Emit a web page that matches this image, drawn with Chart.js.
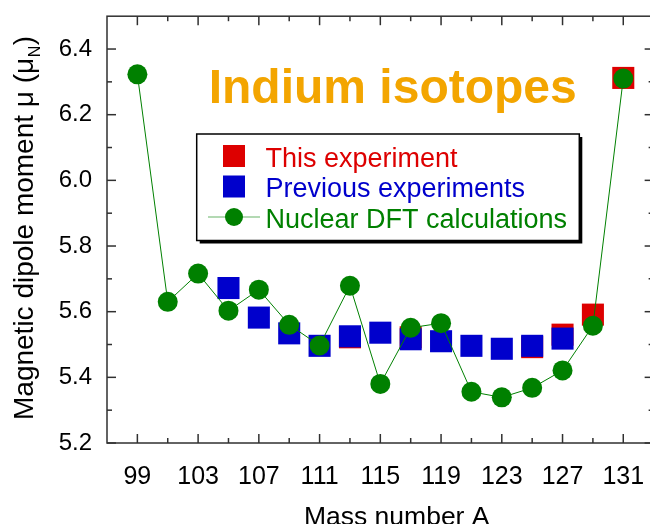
<!DOCTYPE html>
<html><head><meta charset="utf-8">
<script src="https://cdn.jsdelivr.net/npm/chart.js@4.4.1/dist/chart.umd.min.js"></script>
<style>
html,body{margin:0;padding:0;background:#fff;overflow:hidden;width:650px;height:524px;}
#wrap{position:relative;width:650px;height:524px;}
canvas{display:block;}
</style></head><body>
<div id="wrap"><canvas id="c" width="650" height="524"></canvas></div>
<script>
// ---- data ----
const massNumbers = [99,101,103,105,107,109,111,113,115,117,119,121,123,125,127,129,131];
const dftMoments = [6.323,5.630,5.716,5.603,5.667,5.560,5.497,5.679,5.380,5.551,5.565,5.356,5.339,5.368,5.421,5.557,6.310];
const previousMass = [105,107,109,111,113,115,117,119,121,123,125,127];
const previousMoments = [5.672,5.582,5.534,5.496,5.525,5.536,5.516,5.510,5.496,5.487,5.496,5.518];
const thisMass = [113,117,125,127,129,131];
const thisMoments = [5.522,5.522,5.492,5.530,5.591,6.312];
const xTickLabels = [99,103,107,111,115,119,123,127,131];
const xMinorTicks = [101,105,109,113,117,121,125,129];
const yTickLabels = [5.2,5.4,5.6,5.8,6.0,6.2,6.4];
const yMinorTicks = [5.3,5.5,5.7,5.9,6.1,6.3];
const xAxisMin = 97, xAxisMax = 133, xVisibleMax = 132.76;
const seriesNames = ['This experiment','Previous experiments','Nuclear DFT calculations'];
const chartTitle = 'Indium isotopes';
const xTitle = 'Mass number A';
const yTitleMain = 'Magnetic dipole moment \u03bc (\u03bc';
const yTitleSub = 'N';
const yTitleEnd = ')';

const FONT = "Arial, 'Liberation Sans', sans-serif";
const RED = '#DD0000', BLUE = '#0000CC', GREEN = '#008000';

const toPts = (xs, ys) => xs.map((x, i) => ({x: x, y: ys[i]}));
const noPad = s => { s.paddingTop = 0; s.paddingBottom = 0; s.paddingLeft = 0; s.paddingRight = 0; };

const decor = {
  id: 'decor',
  afterDraw(chart) {
    const ctx = chart.ctx;
    const xs = chart.scales.x, ys = chart.scales.y;
    const L = xs.getPixelForValue(xAxisMin), R = xs.getPixelForValue(xAxisMax);
    const T = ys.getPixelForValue(ys.max), B = ys.getPixelForValue(ys.min);
    ctx.save();
    // frame
    ctx.strokeStyle = '#303030';
    ctx.lineWidth = 1.5;
    ctx.strokeRect(L, T, R - L, B - T);
    // inward ticks
    const tick = (x1, y1, x2, y2) => { ctx.beginPath(); ctx.moveTo(x1, y1); ctx.lineTo(x2, y2); ctx.stroke(); };
    const MAJ = 9, MIN = 5;
    xTickLabels.forEach(v => { const p = xs.getPixelForValue(v); tick(p, B, p, B - MAJ); tick(p, T, p, T + MAJ); });
    xMinorTicks.forEach(v => { const p = xs.getPixelForValue(v); tick(p, B, p, B - MIN); tick(p, T, p, T + MIN); });
    yTickLabels.forEach(v => { const p = ys.getPixelForValue(v); tick(L, p, L + MAJ, p); tick(R, p, R - MAJ, p); });
    yMinorTicks.forEach(v => { const p = ys.getPixelForValue(v); tick(L, p, L + MIN, p); tick(R, p, R - MIN, p); });

    // title
    ctx.fillStyle = '#F3A500';
    ctx.font = 'bold 48px ' + FONT;
    ctx.textAlign = 'left';
    ctx.textBaseline = 'alphabetic';
    ctx.fillText(chartTitle, 208.7, 103.3);

    // legend box with shadow
    const bx = 196.7, by = 134, bw = 382.6, bh = 106.5;
    ctx.fillStyle = '#000';
    ctx.fillRect(bx + 3, by + 3, bw, bh);
    ctx.fillStyle = '#fff';
    ctx.fillRect(bx, by, bw, bh);
    ctx.strokeStyle = '#000';
    ctx.lineWidth = 1.5;
    ctx.strokeRect(bx, by, bw, bh);
    const ds = chart.data.datasets;
    const dThis = ds[2], dPrev = ds[1], dDft = ds[0];
    const mx = 234;
    ctx.fillStyle = dThis.backgroundColor; ctx.fillRect(mx - 11, 156 - 11, 22, 22);
    ctx.fillStyle = dPrev.backgroundColor; ctx.fillRect(mx - 11, 186.5 - 11, 22, 22);
    ctx.strokeStyle = 'rgba(0,128,0,0.4)'; ctx.lineWidth = 1.5;
    tick(208, 217, 260, 217);
    ctx.fillStyle = dDft.backgroundColor;
    ctx.beginPath(); ctx.arc(mx, 217, 9, 0, Math.PI * 2); ctx.fill();
    ctx.font = '27px ' + FONT;
    ctx.fillStyle = RED; ctx.fillText(dThis.label, 265.5, 166.5);
    ctx.fillStyle = BLUE; ctx.fillText(dPrev.label, 265.5, 197);
    ctx.fillStyle = GREEN; ctx.fillText(dDft.label, 265.5, 227.5);

    // x axis title
    ctx.fillStyle = '#000';
    ctx.font = '26.5px ' + FONT;
    ctx.textAlign = 'center';
    ctx.fillText(xTitle, 396.7, 525);

    // y axis title (rotated) with subscript
    ctx.translate(33, 420);
    ctx.rotate(-Math.PI / 2);
    ctx.textAlign = 'left';
    ctx.font = '28px ' + FONT;
    ctx.fillText(yTitleMain, 0, 0);
    const w1 = ctx.measureText(yTitleMain).width;
    ctx.font = '16px ' + FONT;
    ctx.fillText(yTitleSub, w1 + 0.5, 7);
    const w2 = ctx.measureText(yTitleSub).width;
    ctx.font = '28px ' + FONT;
    ctx.fillText(yTitleEnd, w1 + w2 + 1, 0);
    ctx.restore();
  }
};

new Chart(document.getElementById('c'), {
  type: 'scatter',
  data: {
    datasets: [
      { label: seriesNames[2], data: toPts(massNumbers, dftMoments), showLine: true,
        borderColor: GREEN, borderWidth: 1, backgroundColor: GREEN,
        pointStyle: 'circle', pointRadius: 10, pointHoverRadius: 10, pointBorderWidth: 0,
        pointBackgroundColor: GREEN, pointBorderColor: GREEN, clip: false },
      { label: seriesNames[1], data: toPts(previousMass, previousMoments),
        backgroundColor: BLUE, borderColor: BLUE, pointStyle: 'rect',
        pointRadius: 15.6, pointHoverRadius: 15.6, pointBorderWidth: 0,
        pointBackgroundColor: BLUE, clip: false },
      { label: seriesNames[0], data: toPts(thisMass, thisMoments),
        backgroundColor: RED, borderColor: RED, pointStyle: 'rect',
        pointRadius: 15.6, pointHoverRadius: 15.6, pointBorderWidth: 0,
        pointBackgroundColor: RED, clip: false }
    ]
  },
  options: {
    responsive: false,
    animation: false,
    devicePixelRatio: 1,
    events: [],
    layout: { autoPadding: false, padding: { top: 16.2, right: 0, left: 0, bottom: 0 } },
    plugins: { legend: { display: false }, tooltip: { enabled: false }, title: { display: false } },
    scales: {
      x: {
        type: 'linear', min: xAxisMin, max: xVisibleMax,
        afterBuildTicks: s => { s.ticks = xTickLabels.map(v => ({ value: v })); },
        afterFit: s => { s.height = 81; noPad(s); },
        grid: { display: false, drawTicks: true, tickLength: 19 },
        border: { display: false },
        ticks: { font: { family: FONT, size: 25 }, color: '#000', padding: 0, maxRotation: 0, autoSkip: false,
                 callback: v => String(v) }
      },
      y: {
        type: 'linear', min: 5.2, max: 6.5,
        afterBuildTicks: s => { s.ticks = yTickLabels.map(v => ({ value: v })); },
        afterFit: s => { s.width = 107; noPad(s); },
        grid: { display: false, drawTicks: true, tickLength: 15 },
        border: { display: false },
        ticks: { font: { family: FONT, size: 24 }, color: '#000', padding: 0, autoSkip: false,
                 callback: v => Number(v).toFixed(1) }
      }
    }
  },
  plugins: [decor]
});
</script>
</body></html>
